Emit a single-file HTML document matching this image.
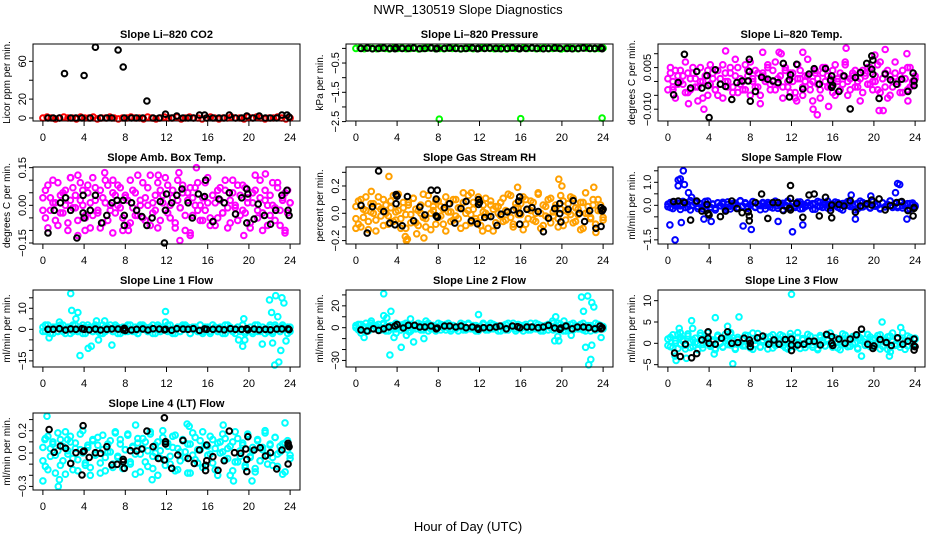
<!DOCTYPE html>
<html><head><meta charset="utf-8"><title>NWR_130519 Slope Diagnostics</title>
<style>
html,body{margin:0;padding:0;background:#fff;}
svg{display:block;font-family:"Liberation Sans",Arial,sans-serif;}
</style></head>
<body>
<svg id="chart" width="936" height="540" viewBox="0 0 936 540">
<rect x="0" y="0" width="936" height="540" fill="#fff"/>
<text x="468" y="14" text-anchor="middle" font-size="13">NWR_130519  Slope Diagnostics</text>
<text x="468" y="531" text-anchor="middle" font-size="13">Hour of Day (UTC)</text>
</svg>
<script>
// ---------- data ----------
const hourTicks = [0,4,8,12,16,20,24];

const co2Red = [0,1,0,-1,0,1,0,0,-1,1,0,0,1,-1,0,0,1,0,-1,0,0,1,0,0,-1,1,0,-1,0,1,0,0,1,-1,0,1,0,0,-1,0,1,0,-1,0,0,1,0,0,-1,1,0,1,0,-1,0,0,1,0,-1,0];
const co2Black = [[0.5,0],[1,0],[1.6,0],[2.1,47],[2.7,0],[3.2,0],[3.8,0],[4,45],[4.6,0],[5.1,75],[5.6,0],[6.2,0],[6.7,0],[7.3,72],[7.8,54],[7.9,0],[8.6,0],[9.1,0],[9.7,0],[10.1,18],[10.7,0],[11.3,0],[11.9,4],[12.5,0],[13,2],[13.6,0],[14.1,0],[14.6,0],[15.2,3],[15.7,3],[15.9,0],[16.5,0],[17.1,0],[17.6,0],[18.1,3],[18.7,0],[19.3,0],[19.8,2],[20.4,0],[21,2],[21.6,0],[22.1,0],[22.7,0],[23.2,3],[23.7,3],[23.9,1]];

const presGreen = [0,1,-1,2,0,-1,1,0,-2,1,0,2,-1,0,1,-2,0,1,2,-1,0,-1,1,0,2,-2,0,1,-1,0,1,2,0,-1,0,1,-2,1,0,-1,2,0,1,-1,0,2,-1,0,1,-2,0,1,0,-1,2,1,0,-1,0,1];
const presOut = [[8.1,-2.42],[16,-2.4],[23.9,-2.38]];
const presBlack = [[0.5,0],[1.1,0.01],[1.6,-0.01],[2.2,0],[2.7,0.01],[3.3,0],[3.8,-0.01],[3.9,0.01],[4.5,0],[5.1,0],[5.6,0.01],[6.2,-0.01],[6.7,0],[7.3,0.01],[7.8,-0.01],[7.9,0],[8.6,0],[9.1,0.01],[9.7,0],[10.2,-0.01],[10.7,0],[11.3,0.01],[11.8,-0.01],[11.9,0],[12.5,0],[13,0.01],[13.6,0],[14.1,-0.01],[14.7,0],[15.2,0.01],[15.8,0],[15.9,-0.01],[16.5,0],[17.1,0.01],[17.6,0],[18.2,-0.01],[18.7,0],[19.3,0.01],[19.8,0],[20.5,0],[21,-0.01],[21.6,0],[22.1,0.01],[22.7,0],[23.2,0],[23.8,0.01],[23.9,-0.01]];

const tempA = [1,3,-2,4,-1,0,2,-4,3,-3,5,1,-2,0,-6,2,4,-1,3,-3,-5,1,6,0,-2,3,-4,2,5,-1,0,-3,4,7,1,-2,3,-5,2,0,6,-1,4,-3,1,2,-2,5,0,-4,3,-6,1,4,-2,0,2,-1,-7,3,1,-3,5,0,2,-2,4,-5,1,3,-1,6,0,-3,2,4,-2,1,-4,3,5,-1,0,2,-3,7,1,-2,4,-5,0,3,-1,2,-4,1,5,-2,0,1];
const tempB = [-3,5,0,-6,2,4,-1,7,-4,1,3,-2,-7,5,0,2,-5,6,1,-3,4,-1,-6,3,0,5,-2,8,-4,1,-3,6,2,-5,0,4,-2,-8,3,1,5,-3,0,7,-1,2,-6,4,-2,3,0,-4,6,1,-5,2,8,-3,0,4,-1,-6,3,5,-2,1,-4,6,0,-3,2,7,-5,1,3,-2,0,-7,4,2,-1,5,-3,0,6,-4,1,3,-6,2,-2,7,0,-4,4,1,-3,5,-1,2];
const tempOut = [[0.5,-3],[2,-8],[3.5,-10],[5.6,11],[9.2,10.5],[10.8,10.5],[11,10],[12.5,-7],[13.1,10.5],[14.1,-10],[14.5,-12],[15.6,-9],[17.3,12],[20.1,9.5],[20.5,-10.5],[20.9,-10.5],[21.1,11.5],[23.2,10],[23.3,-7]];
const tempBlack = [[0.55,-4.8],[1,-0.4],[1.6,9.8],[2.2,-2.4],[2.8,3.6],[3.3,-2.4],[3.8,2.1],[3.9,-1.5],[4,-13],[4.6,4.2],[5.1,-1],[5.6,-1.8],[6.2,-6.5],[6.7,-0.4],[7.2,0.2],[7.8,0.2],[7.9,8],[7.9,3.6],[8,-7.1],[8.5,-3.6],[9.1,1.5],[9.7,0.8],[10.2,0.2],[10.7,-0.4],[11.2,6.5],[11.8,0.6],[11.9,2.4],[11.8,-5.6],[12.5,6.2],[13.1,-2.7],[13.7,2.7],[14.2,4.6],[14.7,-1],[15.3,4.6],[15.8,0.4],[15.9,2],[15.9,-2.1],[16,-1.5],[16.6,-3.6],[17.1,2],[17.7,-9.9],[18.2,1.4],[18.7,3.2],[19.3,6.5],[19.8,9.2],[19.8,4.4],[19.9,2.6],[19.9,7.7],[20.5,-6.1],[21.1,2.7],[21.6,0.6],[22.2,-1],[22.7,0.8],[23.3,-3.6],[23.8,3],[23.9,-1.5],[23.9,0.2]];

const ambA = [3,-5,8,-2,10,1,-8,4,-3,6,-10,2,7,-1,-6,9,0,-4,5,-9,11,2,-3,6,-7,1,8,-2,-11,4,0,7,-5,3,-8,10,-1,5,-4,2,9,-6,0,12,-3,4,-9,6,1,-2,8,-5,3,-7,10,-1,5,-10,2,7,-4,0,9,-6,3,-2,11,-8,4,1,-5,7,-3,6,-9,2,10,-1,-6,4,8,-3,1,-7,5,12,-2,3,-10,6,0,-4,9,-1,7,-8,2,5,-3,1];
const ambB = [-2,6,-9,3,1,-6,9,-3,5,0,-7,11,-1,4,-12,2,6,-5,8,1,-4,7,-2,-9,3,10,-6,0,5,-3,8,-1,-10,4,2,-7,6,-4,12,0,-5,3,7,-8,1,-2,9,-6,4,11,-3,0,6,-9,2,-1,8,-4,5,-11,3,7,-2,0,-6,9,1,-5,4,-8,6,2,-3,10,-1,-7,5,0,8,-4,-2,7,3,-9,1,6,-5,10,-3,2,-8,4,0,-6,9,-2,3,-10,6,1];
const ambOut = [[2.7,0.11],[3.4,0.12],[6,0.13],[6.8,0.1],[11.2,0.12],[13.2,0.13],[13.3,-0.14],[14.3,-0.12],[14.9,0.15],[19.5,-0.12],[21.6,0.125],[4.1,-0.1],[8.3,-0.1],[23.5,-0.11]];
const ambBlack = [[0.5,-0.11],[1.1,-0.02],[1.7,0.01],[2.2,0.03],[2.7,-0.02],[3.3,-0.13],[3.9,-0.03],[3.9,0.04],[4,-0.05],[4.6,-0.02],[5.1,0.04],[5.7,-0.07],[6.2,-0.04],[6.7,0.01],[7.2,0.02],[7.8,0.02],[7.9,-0.04],[7.9,-0.08],[8.6,0.01],[9.1,-0.02],[9.6,-0.045],[10.1,-0.08],[10.6,-0.05],[11.4,0.015],[11.9,-0.02],[12,0.045],[11.8,-0.15],[12.5,0.01],[13,0.04],[13.5,0.065],[14.1,0.01],[14.5,-0.05],[15.1,0.045],[15.7,0.035],[15.8,0.1],[16.5,-0.065],[17.1,0.025],[17.6,0.01],[18.1,0.05],[18.7,-0.035],[19.3,0.03],[19.8,0.065],[19.8,-0.07],[19.9,0.045],[20.5,-0.055],[20.9,0.005],[21.5,-0.04],[22.1,-0.075],[22.6,-0.02],[23.2,0.04],[23.7,0.06],[23.8,-0.02],[23.9,-0.04]];

const rhA = [5,-8,10,-3,2,-12,7,0,-5,12,3,-9,6,-2,9,-6,1,14,-4,4,-11,8,-1,11,-7,2,6,-3,-10,13,0,5,-8,9,-2,3,-13,7,1,-5,10,-4,4,15,-9,2,-1,8,-6,12,-3,6,0,-11,9,3,-7,5,-2,11,-5,1,13,-8,4,-1,7,-12,10,-4,2,8,-6,14,0,-9,5,-3,11,-2,6,-10,3,9,-5,1,12,-7,4,-1,8,-11,15,0,-4,6,-8,10,2,-3];
const rhB = [-4,9,-10,3,12,-6,1,7,-13,5,-2,10,0,-8,4,13,-5,2,-11,8,-1,6,-7,11,3,-9,0,14,-4,7,-12,2,9,-3,5,-8,12,1,-6,10,-2,4,-11,8,0,13,-7,3,-4,9,-9,1,11,-2,6,-13,5,0,8,-6,2,14,-3,-10,7,4,-1,12,-8,3,9,-5,0,15,-11,6,-2,10,-7,1,4,-4,13,-9,2,7,-1,11,-6,3,-12,8,0,5,-3,10,-8,2,6,-5];
const rhOut = [[0,-0.11],[1.5,0.16],[3.2,0.27],[4.8,-0.17],[4.9,-0.2],[5,-0.19],[5.9,-0.15],[6.6,-0.18],[11.2,0.15],[12.3,-0.13],[15.7,0.19],[19.7,0.25],[20,0.2],[23.1,0.19],[23.3,-0.14]];
const rhBlack = [[0.5,5.8],[1.1,-14.5],[1.6,4.8],[2.2,31],[2.7,1.2],[3.3,-7.2],[3.8,-8.4],[3.9,7],[3.9,13.7],[4,12.5],[4.5,-9.2],[5,12.3],[5.6,-5.5],[6.2,4.6],[6.7,-1.2],[7.3,16.9],[7.8,-1.9],[7.9,16.9],[7.8,10.4],[7.9,-2.9],[8.6,4.1],[9.1,7],[9.6,-7.2],[10.2,3.4],[10.7,8.7],[11.2,-5.5],[11.8,-7.7],[11.9,6.5],[11.9,10.1],[12,8],[12.5,-3.1],[13.1,-2.4],[13.7,-8.9],[14.1,-0.7],[14.7,1],[15.3,2.4],[15.8,8.9],[15.9,12],[15.9,0],[15.9,-8],[16.6,2.9],[17.1,4.1],[17.7,1.2],[18.2,-13.5],[18.7,-3.6],[19.3,3.4],[19.8,7.2],[19.8,-0.2],[19.9,-6.3],[20.6,2.9],[21.1,9.2],[21.7,0],[22.2,-6],[22.7,1.9],[23.3,-11],[23.8,-9.6],[23.8,4.1],[23.9,1.7],[24,2.9]];

const flowA = [5,-10,15,-3,8,-18,2,12,-7,20,-1,9,-14,4,-5,17,0,-11,6,-20,10,-2,13,-8,3,-16,7,1,-12,18,-4,11,-6,2,15,-9,5,-19,8,-1,12,-7,3,16,-13,0,9,-4,19,-10,6,-2,14,-15,4,-6,10,1,-17,7,-3,13,-9,2,18,-11,5,-1,11,-14,8,0,16,-5,3,-20,9,-8,12,-2,6,-12,15,-4,1,-16,10,-7,4,19,-3,7,-10,13,-1,5,-18,8,2,-6];
const flowB = [-6,12,-14,3,9,-2,17,-10,5,-20,1,14,-5,8,-15,2,19,-8,4,-12,11,-1,6,-18,15,-4,0,10,-9,20,-3,7,-13,2,16,-7,5,-1,12,-16,3,9,-11,18,-2,6,-19,1,13,-6,8,-9,4,15,-14,0,11,-3,7,-17,17,-5,2,10,-12,6,-1,14,-8,3,-20,9,0,12,-4,5,-15,18,-7,1,8,-10,16,-2,4,-13,11,-6,2,19,-9,6,-3,13,-11,0,7,-16,10,-1];
const flowOut = [[0.2,-0.85],[0.7,-1.5],[1,0.85],[1,1.1],[1.2,1.15],[1.3,-0.75],[1.5,1.5],[1.6,0.9],[2,0.55],[2.3,0.35],[3.5,-0.6],[4.2,-0.7],[7.3,-0.9],[8.1,-1.05],[10.7,-0.7],[12.1,-1.15],[13.1,-0.85],[17.8,0.45],[18.2,-0.6],[19.7,0.4],[22.1,0.55],[22.3,0.95],[22.5,0.9],[23.2,-0.6]];
const flowBlack = [[0.55,0.16],[1,0.19],[1.6,0.12],[2.2,-0.64],[2.8,0.19],[3.3,-0.25],[3.8,0.04],[3.9,-0.35],[4,-0.42],[5.1,-0.49],[5.6,-0.25],[6.2,0.19],[6.7,-0.14],[7.2,-0.32],[7.8,-0.28],[7.9,-0.46],[7.9,-0.67],[8.5,0.12],[9.1,0.49],[9.7,-0.57],[10.2,0.12],[10.7,0.12],[11.2,-0.23],[11.8,-0.13],[11.9,0.86],[11.9,-0.2],[11.9,0.3],[12.5,0.09],[13.1,-0.52],[13.7,0.45],[14.2,0.49],[14.7,-0.46],[15.3,0.35],[15.8,-0.23],[15.9,0.01],[15.9,-0.54],[16.6,0.04],[17.1,-0.03],[17.7,0.2],[18.2,-0.3],[18.7,-0.03],[19.3,0.06],[19.8,0.01],[19.8,0.23],[20.5,0.28],[21.1,-0.2],[21.6,-0.01],[22.2,0.12],[22.7,0.16],[23.3,-0.23],[23.8,-0.46],[23.9,-0.13],[23.9,-0.1]];

const line1A = [1,-1,2,0,-2,1,-1,2,-1,0,1,-2,2,0,-1,1,2,-2,0,1,-1,2,-1,0,-2,1,0,2,-1,1,-2,0,1,-1,2,0,-1,1,-2,2,0,1,-1,0,2,-2,1,-1,0,1,2,-1,0,-2,1,-1,2,0,1,-2,0,1,-1,2,-1,0,1,-2,2,0,-1,1,0,-2,2,1,-1,0,1,-1,2,-2,0,1,-1,0,2,-1,1,-2,0,1,-1,2,0,-1,1,0,-2,1];
const line1B = [-1,2,0,-2,1,1,-1,0,2,-2,0,1,-1,2,-1,0,-2,1,2,0,-1,1,0,-2,2,-1,1,0,-1,2,1,-2,0,1,-1,2,0,-1,-2,1,2,0,-1,1,-2,0,2,-1,1,0,-1,2,-2,0,1,-1,1,2,0,-2,1,0,-1,2,-2,1,0,-1,2,1,-1,0,-2,2,0,1,-1,-2,1,0,2,-1,0,1,-2,2,-1,0,1,0,-1,2,-2,1,0,-1,2,0,1,-1];
const line1Out = [[0.6,-4],[1.6,3.5],[2.7,17],[2.8,9],[3.2,5],[3.4,8],[3.6,-12.5],[4.4,-9],[4.7,-8],[5.2,4],[5.4,-5],[6,4],[6.7,-7.5],[11.9,8.5],[11.9,3.5],[19,-5],[19.4,-8],[19.5,5],[19.6,-5],[21.3,-7],[22,14],[22.2,8],[22.3,-6.5],[22.5,-17],[22.6,16],[22.8,6],[22.9,-15.5],[23.1,-10],[23.2,15],[23.4,12.5],[23.6,-5.5]];
const line1Black = [[0.5,0],[1,0],[1.6,0.3],[2.2,-0.3],[2.7,0.2],[3.2,0],[3.8,0.3],[4,0],[4.5,-0.2],[5.1,0.1],[5.6,-0.3],[6.2,0],[6.7,0.2],[7.3,0.1],[7.8,-0.2],[7.9,0.5],[8,-0.5],[8.6,-0.3],[9.1,0],[9.7,0.2],[10.2,-0.3],[10.7,0.3],[11.3,0.1],[11.8,-0.2],[11.9,0],[12.5,-0.4],[13,0.3],[13.6,0.1],[14.1,0],[14.6,0.3],[15.2,-0.5],[15.7,0.2],[15.9,0],[16.5,0],[17.1,0.1],[17.6,-0.2],[18.2,0.3],[18.7,0],[19.3,0],[19.8,0.3],[19.9,-0.2],[20.5,0.1],[21,-0.2],[21.6,0],[22.1,-0.2],[22.7,0.1],[23.2,0.2],[23.8,0.2],[23.9,-0.1]];

const line2A = [2,-2,3,0,-3,1,4,-1,2,-2,0,3,-3,1,2,-1,4,0,-2,3,1,-3,2,0,-1,4,-2,1,3,-3,0,2,-1,4,-2,1,3,0,-3,2,-1,1,4,-2,0,3,-1,2,-3,1,0,4,-2,2,-1,3,0,-3,1,2,-2,4,0,1,-3,3,-1,2,0,-2,4,1,-1,3,-3,0,2,-2,1,4,-1,0,3,-3,2,1,-2,4,0,-1,3,-2,1,2,-3,0,4,-1,2,1];
const line2B = [0,3,-2,1,4,-3,2,-1,0,3,-2,4,1,-3,0,2,-1,3,-2,1,4,0,-3,2,-1,1,3,-2,0,4,-1,2,-3,1,3,0,-2,4,-1,2,0,-3,1,3,-2,4,0,-1,2,-3,1,3,0,-2,4,-1,2,1,-3,0,3,-2,1,4,-1,0,2,-3,3,1,-2,0,4,-1,2,-3,1,3,0,-2,2,4,-1,0,-3,1,3,-2,2,0,-1,4,-3,1,2,0,-2,3,1,-1];
const line2Out = [[0.5,-5],[0.8,-9],[1.5,6],[2.7,31],[2.7,11],[3,9],[3.3,-25],[3.4,15],[3.7,-9],[3.9,-5],[4.4,-18],[4.9,-7],[5.2,-4],[5.3,8],[5.6,-13],[6.6,-10],[6.8,6],[11.9,12],[19.1,6],[19.3,-12],[19.4,10],[19.6,-8],[19.7,-12],[20.2,6],[20.9,-7],[21.9,28],[22.1,15],[22.3,-18],[22.5,29],[22.6,-34],[22.8,-29],[22.9,23],[22.9,-16],[23.1,19],[23.8,-9]];
const line2Black = [[0.5,-2],[1.1,-3],[1.7,-1],[2.2,-2.5],[2.7,-1],[3.2,0.6],[3.8,1.5],[4,2.8],[4.6,-0.3],[5.1,2.2],[5.7,2.2],[6.2,0.6],[6.7,0.6],[7.3,1.5],[7.8,-1],[7.9,-0.3],[8.6,1.5],[9.1,1.5],[9.7,0.6],[10.2,1.5],[10.7,0],[11.3,0.6],[11.8,-0.3],[11.9,-1.5],[12.4,0],[13,0],[13.6,0.6],[14,1.5],[14.6,-1],[15.2,1.5],[15.7,0.9],[15.9,0],[16.6,0.6],[17.1,0.6],[17.7,0],[18.2,0.6],[18.7,2.2],[19.3,-0.3],[19.8,-1.5],[19.9,-0.3],[20.4,1.5],[21,-1],[21.5,0.6],[22.1,0.6],[22.6,0],[23.2,-1],[23.7,1.5],[23.8,-1],[23.9,0]];

const line3A = [10,-8,20,0,-12,15,5,-5,22,-10,8,2,-15,18,-3,12,25,-7,4,-12,16,0,-9,21,6,-4,13,-14,9,1,-6,19,3,-11,24,-2,11,-8,7,15,-13,2,20,-5,10,-1,17,-10,5,23,-7,0,14,-12,8,-3,21,4,-9,12,-15,18,1,-6,9,24,-4,13,-11,6,2,19,-8,10,-1,16,-13,7,22,-5,3,15,-10,11,0,20,-7,8,-14,17,4,-2,12,-9,25,5,-6,14,-3,9];
const line3B = [-5,14,-10,6,21,-2,9,-13,17,3,-7,12,0,24,-11,5,15,-4,8,-15,19,1,-8,11,-3,22,6,-12,14,-1,10,-6,18,2,-14,7,23,-9,4,13,-2,16,-11,9,0,20,-5,6,-13,15,3,-8,25,-1,11,-10,7,17,-4,2,-12,14,8,-6,19,0,-9,12,4,-15,22,-3,10,-7,16,1,-11,13,5,-4,21,-8,9,-1,18,-13,6,2,15,-10,24,-5,11,-2,7,-14,17,3,-7,12];
const line3Out = [[0.7,-3],[0.8,-4],[1.1,3.5],[1.2,2.5],[1.8,-3.5],[2.3,5.3],[2.4,3.5],[4.5,-2.5],[4.6,6],[5.8,4],[6.1,2.5],[6.3,-4.8],[6.9,6.2],[12,11.5],[18.8,-3],[20.8,5],[21.5,-3],[21.6,-2],[22.6,3.7]];
const line3Black = [[0.65,-2.3],[1.2,-3.1],[1.7,-0.2],[2.3,-3.4],[2.8,-2.4],[3.3,0.8],[3.9,2.7],[3.9,1.2],[4,0],[4.6,-0.2],[5.2,1.2],[5.8,2.7],[6.2,0],[6.8,0.2],[7.4,1.2],[7.9,0.8],[8,-0.8],[8,0],[8.7,1.3],[9.2,1.7],[9.8,-0.2],[10.3,0.8],[10.8,-0.2],[11.4,0.9],[12,1],[12,-0.4],[12,-1.7],[12.6,-0.4],[13.2,-0.2],[13.7,0.5],[14.2,0.5],[14.8,-0.4],[15.4,2.1],[15.9,1.6],[15.9,0],[16,-0.5],[16.6,1],[17.2,0],[17.7,1],[18.3,2],[18.8,3.3],[19.4,-0.2],[19.9,-1.2],[20,-0.6],[20.6,0.9],[21.2,0.2],[21.7,-0.5],[22.3,1.3],[22.8,-0.2],[23.3,0.5],[23.9,1],[23.9,-0.6],[23.9,-1.6],[24,-0.8]];

const ltA = [5,-12,15,-3,8,-18,2,12,-7,19,-1,10,-15,4,-6,17,0,-11,7,-20,11,-2,14,-9,3,-16,8,1,-13,18,-4,12,-6,3,16,-10,5,-19,9,-1,13,-8,2,17,-14,0,10,-5,20,-11,6,-3,15,-16,4,-7,11,1,-18,8,-2,14,-9,3,19,-12,6,-1,12,-15,9,0,17,-6,4,-20,10,-8,13,-3,7,-13,16,-4,2,-17,11,-7,5,18,-2,8,-11,14,-1,6,-19,9,3,-5];
const ltB = [-7,13,-15,4,10,-2,18,-11,6,-19,2,15,-5,9,-16,3,20,-9,5,-13,12,-1,7,-18,16,-4,1,11,-10,19,-3,8,-14,3,17,-8,6,-1,13,-17,4,10,-12,19,-3,7,-20,2,14,-6,9,-10,5,16,-15,1,12,-4,8,-18,18,-6,3,11,-13,7,-2,15,-9,4,-20,10,1,13,-5,6,-16,19,-8,2,9,-11,17,-3,5,-14,12,-7,3,20,-10,7,-4,14,-12,1,8,-17,11,-2];
const ltOut = [[0,-0.25],[0.4,0.33],[0.2,0.12],[1.5,-0.3],[1.6,-0.24],[2.4,0.12],[9,0.25],[10.6,-0.24],[14,0.26],[14.2,0.24],[17.5,0.25],[18.5,-0.25],[20.3,-0.25],[23.5,0.27]];
const ltBlack = [[0.6,0.21],[1.1,0.006],[1.7,0.063],[2.2,0.042],[2.7,-0.093],[3.2,0.003],[3.8,-0.197],[3.9,0.245],[3.9,0.012],[4,0.018],[4.5,-0.039],[5.1,0.003],[5.6,-0.003],[6.2,0.057],[6.7,-0.107],[7.2,-0.101],[7.8,-0.078],[7.8,-0.057],[7.9,-0.137],[8.5,0.021],[9.1,0.018],[9.6,0.036],[10.1,0.197],[10.7,0.057],[11.2,-0.048],[11.8,-0.063],[11.8,0.316],[11.9,0.101],[11.9,0.081],[12.5,-0.137],[13.1,-0.018],[13.6,0.113],[14.1,-0.048],[14.7,-0.093],[15.2,0.027],[15.8,-0.158],[15.8,-0.11],[15.9,0.072],[15.9,-0.069],[16.5,-0.033],[17,-0.155],[17.6,-0.069],[18.1,0.197],[18.6,0.003],[19.2,-0.003],[19.7,0.036],[19.8,-0.057],[19.8,-0.167],[19.9,0.146],[20.5,0.027],[21.1,0.048],[21.6,-0.027],[22.1,0.003],[22.7,-0.143],[23.2,0.027],[23.8,0.087],[23.8,0.069],[23.9,0.057],[23.8,-0.099]];

// ---------- layout ----------
const colLeft = [33,346,658], rowTop = [44,167,290,413], boxW = 267, boxH = 77;
const MAG='#ff00ff', CYAN='#00ffff', BLUE='#0000ff', GREEN='#00ff00', ORANGE='#ffa000', RED='#ff0000';

const panels = [
 {name:'co2', title:'Slope Li\u2013820 CO2', ylab:'Licor ppm per min.', c:0, r:0, lo:-3.2, hi:78.4,
  ticks:[0,20,40,60], labels:{'0':'0','20':'20','60':'60'},
  dense:[{vals:co2Red, unit:1, color:RED}], out:[], outColor:RED, black:co2Black, blackUnit:1},
 {name:'pressure', title:'Slope Li\u2013820 Pressure', ylab:'kPa per min.', c:1, r:0, lo:-2.48, hi:0.15,
  ticks:[-2.5,-2,-1.5,-1,-0.5,0], labels:{'-2.5':'\u22122.5','-1.5':'\u22121.5','-0.5':'\u22120.5'},
  dense:[{vals:presGreen, unit:0.01, color:GREEN}], out:presOut, outColor:GREEN, black:presBlack, blackUnit:1},
 {name:'li820-temp', title:'Slope Li\u2013820 Temp.', ylab:'degrees C per min.', c:2, r:0, lo:-0.01425, hi:0.0135,
  ticks:[-0.01,-0.005,0,0.005,0.01], labels:{'-0.01':'\u22120.010','0.005':'0.005'},
  dense:[{vals:tempA, unit:0.001, color:MAG},{vals:tempB, unit:0.001, color:MAG}], out:tempOut, outUnit:0.001, outColor:MAG, black:tempBlack, blackUnit:0.001},
 {name:'amb-box-temp', title:'Slope Amb. Box Temp.', ylab:'degrees C per min.', c:0, r:1, lo:-0.154, hi:0.1526,
  ticks:[-0.15,-0.1,-0.05,0,0.05,0.1,0.15], labels:{'-0.15':'\u22120.15','0':'0.00','0.15':'0.15'},
  dense:[{vals:ambA, unit:0.01, color:MAG},{vals:ambB, unit:0.01, color:MAG}], out:ambOut, outColor:MAG, black:ambBlack, blackUnit:1},
 {name:'gas-stream-rh', title:'Slope Gas Stream RH', ylab:'percent per min.', c:1, r:1, lo:-0.225, hi:0.339,
  ticks:[-0.2,-0.1,0,0.1,0.2,0.3], labels:{'-0.2':'\u22120.2','0':'0.0','0.2':'0.2'},
  dense:[{vals:rhA, unit:0.01, color:ORANGE},{vals:rhB, unit:0.01, color:ORANGE}], out:rhOut, outColor:ORANGE, black:rhBlack, blackUnit:0.01},
 {name:'sample-flow', title:'Slope Sample Flow', ylab:'ml/min per min.', c:2, r:1, lo:-1.68, hi:1.665,
  ticks:[-1.5,-1,-0.5,0,0.5,1,1.5], labels:{'-1.5':'\u22121.5','0':'0.0','1':'1.0'},
  dense:[{vals:flowA, unit:0.01, color:BLUE},{vals:flowB, unit:0.01, color:BLUE}], out:flowOut, outColor:BLUE, black:flowBlack, blackUnit:1},
 {name:'line1-flow', title:'Slope Line 1 Flow', ylab:'ml/min per min.', c:0, r:2, lo:-17.9, hi:18.7,
  ticks:[-15,-10,-5,0,5,10,15], labels:{'-15':'\u221215','0':'0','10':'10'},
  dense:[{vals:line1A, unit:1, color:CYAN},{vals:line1B, unit:1, color:CYAN}], out:line1Out, outColor:CYAN, black:line1Black, blackUnit:1},
 {name:'line2-flow', title:'Slope Line 2 Flow', ylab:'ml/min per min.', c:1, r:2, lo:-36, hi:34.5,
  ticks:[-30,-20,-10,0,10,20,30], labels:{'-30':'\u221230','0':'0','20':'20'},
  dense:[{vals:line2A, unit:1, color:CYAN},{vals:line2B, unit:1, color:CYAN}], out:line2Out, outColor:CYAN, black:line2Black, blackUnit:1},
 {name:'line3-flow', title:'Slope Line 3 Flow', ylab:'ml/min per min.', c:2, r:2, lo:-5.55, hi:12.5,
  ticks:[-5,0,5,10], labels:{'-5':'\u22125','0':'0','5':'5','10':'10'},
  dense:[{vals:line3A, unit:0.1, color:CYAN},{vals:line3B, unit:0.1, color:CYAN}], out:line3Out, outColor:CYAN, black:line3Black, blackUnit:1},
 {name:'line4-lt-flow', title:'Slope Line 4 (LT) Flow', ylab:'ml/min per min.', c:0, r:3, lo:-0.332, hi:0.359,
  ticks:[-0.3,-0.2,-0.1,0,0.1,0.2,0.3], labels:{'-0.3':'\u22120.3','0':'0.0','0.2':'0.2'},
  dense:[{vals:ltA, unit:0.01, color:CYAN},{vals:ltB, unit:0.01, color:CYAN}], out:ltOut, outColor:CYAN, black:ltBlack, blackUnit:1}
];

const NS='http://www.w3.org/2000/svg';
const svg=document.getElementById('chart');
function mk(tag, attrs, parent){
  const e=document.createElementNS(NS,tag);
  for(const k in attrs) e.setAttribute(k,attrs[k]);
  parent.appendChild(e); return e;
}

panels.forEach(p=>{
  const L=colLeft[p.c], T=rowTop[p.r], R=L+boxW, B=T+boxH;
  const xs=h=>L+(h+0.96)/25.92*boxW;
  const ys=v=>T+(p.hi-v)/(p.hi-p.lo)*boxH;
  const g=mk('g',{},svg);
  
  

  const pts=mk('g',{},g);
  
  
  p.dense.forEach(s=>{
    const n=s.vals.length;
    s.vals.forEach((v,i)=>{
      const c=mk('circle',{cx:xs(i*24/(n-1)).toFixed(1), cy:ys(v*s.unit).toFixed(1), r:2.8, fill:'none', stroke:s.color,'stroke-width':2},pts);
      
      
    });
  });
  const ou=p.outUnit||1;
  p.out.forEach(d=>{
    const c=mk('circle',{cx:xs(d[0]).toFixed(1), cy:ys(d[1]*ou).toFixed(1), r:2.8, fill:'none', stroke:p.outColor,'stroke-width':2},pts);
    
    
  });
  p.black.forEach(d=>{
    const c=mk('circle',{cx:xs(d[0]).toFixed(1), cy:ys(d[1]*p.blackUnit).toFixed(1), r:2.8, fill:'none', stroke:'#000','stroke-width':2},pts);
    
    
  });

  const box=mk('rect',{x:L,y:T,width:boxW,height:boxH,fill:'none',stroke:'#000','stroke-width':1},g);
  
  

  const t=mk('text',{x:(L+R)/2,y:T-6,'text-anchor':'middle','font-size':11,'font-weight':'bold'},g);
  t.textContent=p.title;
  
  

  const yl=mk('text',{x:0,y:0,'text-anchor':'middle','font-size':10,transform:'translate('+(L-23)+','+((T+B)/2)+') rotate(-90)'},g);
  yl.textContent=p.ylab;
  
  

  p.ticks.forEach(v=>{
    const y=ys(v);
    const tk=mk('line',{x1:L-4,x2:L,y1:y,y2:y,stroke:'#000','stroke-width':1},g);
    
    
    const lab=p.labels[String(v)];
    if(lab!==undefined){
      const tx=mk('text',{x:0,y:0,'text-anchor':'middle','font-size':11,transform:'translate('+(L-7)+','+y.toFixed(1)+') rotate(-90)'},g);
      tx.textContent=lab;
      
      
    }
  });
  hourTicks.forEach(h=>{
    const x=xs(h);
    const tk=mk('line',{x1:x,x2:x,y1:B,y2:B+5,stroke:'#000','stroke-width':1},g);
    
    
    const tx=mk('text',{x:x,y:B+20,'text-anchor':'middle','font-size':11},g);
    tx.textContent=String(h);
    
    
  });
});
</script>
</body></html>
